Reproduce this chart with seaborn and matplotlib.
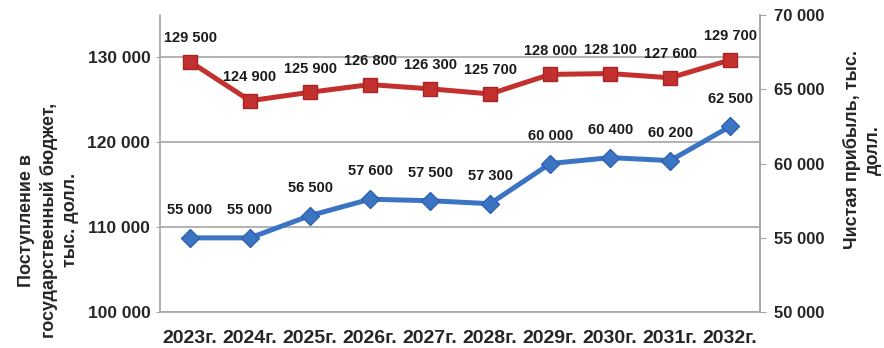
import matplotlib
matplotlib.use("Agg")
import matplotlib.pyplot as plt
from matplotlib import font_manager
import seaborn as sns
import pandas as pd

years = ["2023г.", "2024г.", "2025г.", "2026г.", "2027г.", "2028г.", "2029г.", "2030г.", "2031г.", "2032г."]
budget = [129500, 124900, 125900, 126800, 126300, 125700, 128000, 128100, 127600, 129700]
profit = [55000, 55000, 56500, 57600, 57500, 57300, 60000, 60400, 60200, 62500]
left_ticks = [100000, 110000, 120000, 130000]
right_ticks = [50000, 55000, 60000, 65000, 70000]
left_label = "Поступление в\nгосударственный бюджет,\nтыс. долл."
right_label = "Чистая прибыль, тыс.\nдолл."

sns.set_style("white")
names = {f.name for f in font_manager.fontManager.ttflist}
narrow = "Liberation Sans Narrow" if "Liberation Sans Narrow" in names else None
plt.rcParams["font.family"] = ["Liberation Sans", "DejaVu Sans"]
plt.rcParams["font.weight"] = "bold"

def fmt(v):
    return f"{v:,}".replace(",", " ")

df = pd.DataFrame({"year": years, "budget": budget, "profit": profit})

fig = plt.figure(figsize=(8.84, 3.48), dpi=100)
ax = fig.add_axes([0.181, 0.103, 0.679, 0.854])
ax2 = ax.twinx()

red = "#C4302E"
blue = "#3C74C4"
sns.lineplot(data=df, x="year", y="budget", ax=ax, color=red, linewidth=3.6,
             marker="s", markersize=10, markerfacecolor=red, markeredgecolor="#A82424",
             markeredgewidth=1.0, sort=False)
sns.lineplot(data=df, x="year", y="profit", ax=ax2, color=blue, linewidth=3.6,
             marker="D", markersize=9, markerfacecolor=blue, markeredgecolor="#2F62AC",
             markeredgewidth=1.0, sort=False)

ax.set_xlim(-0.5, len(years) - 0.5)
ax.set_ylim(100000, 135000)
ax2.set_ylim(50000, 70000)
ax.set_yticks(left_ticks)
ax.set_yticklabels([fmt(v) for v in left_ticks])
ax2.set_yticks(right_ticks)
ax2.set_yticklabels([fmt(v) for v in right_ticks])

ax.grid(axis="y", color="#A6A6A6", linewidth=1.2)
ax.grid(axis="x", visible=False)
ax.set_axisbelow(True)

gray = "#A6A6A6"
for a in (ax, ax2):
    a.spines["top"].set_visible(False)
    for s in ("left", "right", "bottom"):
        a.spines[s].set_color(gray)
        a.spines[s].set_linewidth(1.2)
ax2.spines["left"].set_visible(False)
ax2.spines["bottom"].set_visible(False)

ax.tick_params(axis="y", length=3, color=gray, labelsize=12.5, pad=4)
ax2.tick_params(axis="y", length=4, color=gray, labelsize=12, pad=6)
ax.tick_params(axis="x", length=0, pad=13)
for lab in ax.get_xticklabels():
    if narrow:
        lab.set_fontfamily([narrow, "Liberation Sans"])
        lab.set_fontsize(16.5)
    else:
        lab.set_fontsize(14)
    lab.set_fontweight("bold")

ax.set_xlabel("")
ax.set_ylabel(left_label, fontsize=13, fontweight="bold", linespacing=1.32)
ax2.set_ylabel(right_label, fontsize=13, fontweight="bold", linespacing=1.32, rotation=90)
ax.yaxis.set_label_coords(-0.135, 0.31)
ax2.yaxis.set_label_coords(1.137, 0.546)

for i, v in enumerate(budget):
    ax.annotate(fmt(v), (i, v), xytext=(0, 17), textcoords="offset points",
                ha="center", va="center", fontsize=10.5, fontweight="bold", color="#1A1A1A")
for i, v in enumerate(profit):
    ax2.annotate(fmt(v), (i, v), xytext=(0, 20), textcoords="offset points",
                 ha="center", va="center", fontsize=10.5, fontweight="bold", color="#1A1A1A")

fig.savefig("out.png", dpi=100)
